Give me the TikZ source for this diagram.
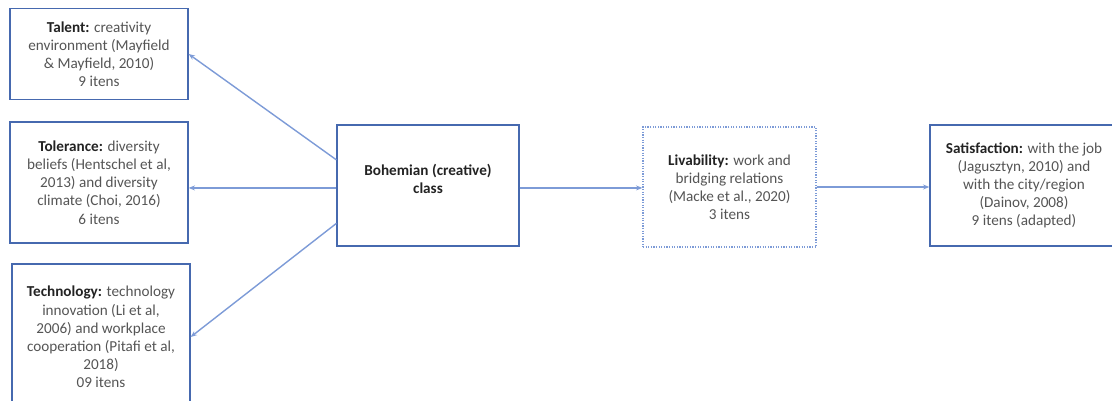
\documentclass[tikz,border=0pt]{standalone}
\usepackage{fontspec}
\setmainfont{Carlito}
\usepackage{tikz}
\usepackage{xcolor}
\usetikzlibrary{positioning,arrows.meta,calc}

\definecolor{boxblue}{RGB}{70,105,175}
\definecolor{linkblue}{RGB}{125,155,215}
\definecolor{txtgray}{RGB}{85,85,85}
\definecolor{hdgray}{RGB}{35,35,35}

\begin{document}
\begin{tikzpicture}[x=0.025cm, y=-0.025cm,
    box/.style={rectangle, draw=boxblue, line width=0.85pt, fill=white, align=center,
      text=txtgray, font=\fontsize{10.8}{12.9}\selectfont, inner sep=2pt},
    dotbox/.style={box, draw=linkblue, densely dotted, line width=0.9pt},
    link/.style={draw=linkblue, line width=1pt, -{Stealth[length=4.5pt,width=3.5pt]}}]

  \useasboundingbox (0,0) rectangle (1112,401);
  \clip (0,0) rectangle (1112,401);

  % Left column: the three T's
  \node[box, minimum width=4.45cm, minimum height=2.275cm] (tal) at (99,54)
    {\textcolor{hdgray}{\textbf{Talent:}} creativity\\environment (Mayfield\\\& Mayfield, 2010)\\9 itens};
  \node[box, minimum width=4.45cm, minimum height=3.025cm] (tol) at (99,182.5)
    {\textcolor{hdgray}{\textbf{Tolerance:}} diversity\\beliefs (Hentschel et al,\\2013) and diversity\\climate (Choi, 2016)\\6 itens};
  \node[box, minimum width=4.45cm, minimum height=3.65cm] (tec) at (101,337)
    {\textcolor{hdgray}{\textbf{Technology:}} technology\\innovation (Li et al,\\2006) and workplace\\cooperation (Pitafi et al,\\2018)\\09 itens};

  % Middle and right boxes
  \node[box, minimum width=4.55cm, minimum height=3.025cm] (boh) at (428,185.5)
    {\textcolor{hdgray}{\textbf{Bohemian (creative)}}\\\textcolor{hdgray}{\textbf{class}}\\[-4pt]\mbox{}};
  \node[dotbox, minimum width=4.325cm, minimum height=3.0cm] (liv) at (729.5,187)
    {\textcolor{hdgray}{\textbf{Livability:}} work and\\bridging relations\\(Macke et al., 2020)\\3 itens};
  \node[box, minimum width=4.7cm, minimum height=3.025cm] (sat) at (1024,185.5)
    {\textcolor{hdgray}{\textbf{Satisfaction:}} with the job\\(Jagusztyn, 2010) and\\with the city/region\\(Dainov, 2008)\\9 itens (adapted)};

  % Arrows
  \coordinate (bohA) at ($(boh.north west)!0.29!(boh.south west)$);
  \coordinate (bohB) at ($(boh.north west)!0.52!(boh.south west)$);
  \coordinate (bohC) at ($(boh.north west)!0.81!(boh.south west)$);
  \draw[link] (bohA) -- (tal.east);
  \draw[link] (bohB) -- (bohB -| tol.east);
  \draw[link] (bohC) -- (tec.east);
  \draw[link] (bohB -| boh.east) -- (bohB -| liv.west);
  \draw[link] (liv.east) -- (liv.east -| sat.west);
\end{tikzpicture}
\end{document}
